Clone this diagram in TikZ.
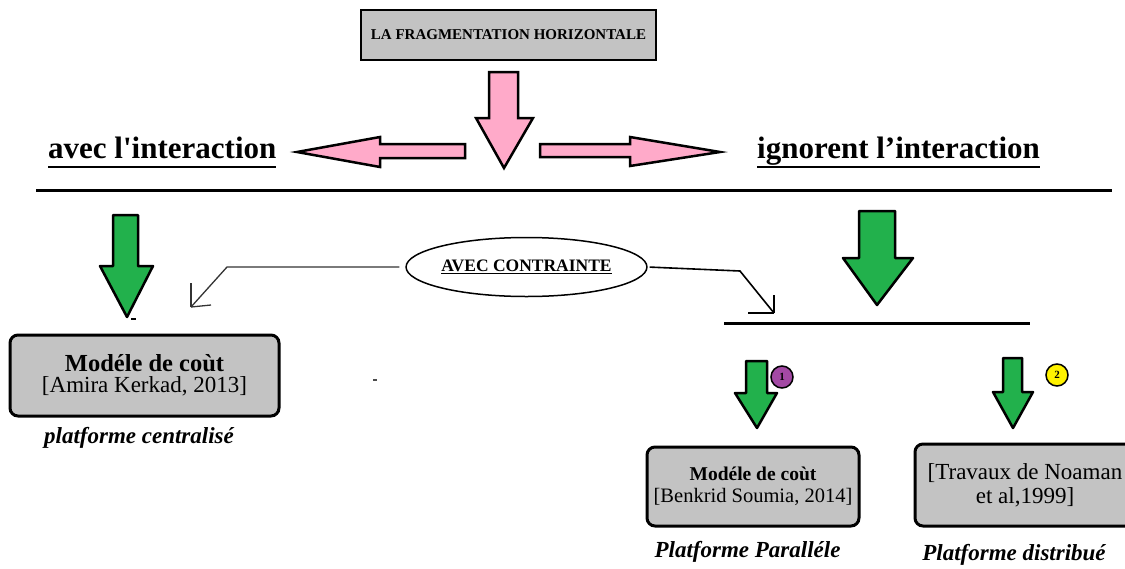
\documentclass[tikz,border=0pt]{standalone}
\usepackage{fontspec}
\newfontfamily\tnr{Liberation Serif}
\usetikzlibrary{shapes.geometric}
\definecolor{boxgray}{HTML}{C3C3C3}
\definecolor{pinkfill}{HTML}{FFAAC9}
\definecolor{greenfill}{HTML}{22B14C}
\definecolor{purplefill}{HTML}{A349A4}
\definecolor{yellowfill}{HTML}{FFF200}
% text with a rule under it: #1 drop below baseline, #2 rule thickness, #3 text
\newcommand\ulbox[3]{\setbox0\hbox{#3}\rlap{\rule[-#1]{\wd0}{#2}}\box0}
\newcommand\fs[1]{\fontsize{#1}{#1}\selectfont}
\begin{document}
\begin{tikzpicture}[x=1pt,y=-1pt,
  every node/.style={font=\tnr},
  titlebox/.style={draw, line width=2pt, fill=boxgray, minimum width=295pt,
    minimum height=50pt, inner sep=0pt, font=\tnr\bfseries\fs{15}},
  refbox/.style={draw, line width=3pt, fill=boxgray, rounded corners=8pt,
    inner sep=0pt, align=center},
  heading/.style={anchor=base west, inner sep=0pt, font=\tnr\bfseries\fs{31}},
  platform/.style={inner sep=0pt, font=\tnr\bfseries\itshape\fs{23}},
  blockpink/.style={draw, line width=2.5pt, fill=pinkfill, line join=miter},
  blockgreen/.style={draw, line width=2.5pt, fill=greenfill, line join=round},
  thinlink/.style={line width=1.3pt, draw=black!80},
  badge/.style={circle, draw, line width=1.5pt, minimum size=22pt, inner sep=0pt,
    font=\tnr\bfseries\fs{11}}]
\useasboundingbox (0,0) rectangle (1125,568);
\clip (0,0) rectangle (1125,568);

% title
\node[titlebox] (title) at (508.5,35) {LA FRAGMENTATION HORIZONTALE};

% pink block arrows
\draw[blockpink] (489,72) -- (518,72) -- (518,118) -- (533,118) -- (504,168)
  -- (476,118) -- (489,118) -- cycle;
\draw[blockpink] (465,144) -- (465,158) -- (380,158) -- (380,167) -- (297,152)
  -- (380,137) -- (380,144) -- cycle;
\draw[blockpink] (540,144) -- (540,157) -- (630,157) -- (630,166) -- (720,152)
  -- (630,137) -- (630,144) -- cycle;

% headings
\node[heading] (hleft) at (48,158) {\ulbox{10pt}{2.5pt}{avec l'interaction}};
\node[heading] (hright) at (757,158) {\ulbox{10pt}{2.5pt}{ignorent l’interaction}};

% separator lines
\coordinate (sepL) at (36,190);
\coordinate (sepR) at (1112,190);
\draw[line width=3pt] (sepL) -- (sepR);
\coordinate (subL) at (724,323);
\coordinate (subR) at (1030,323);
\draw[line width=3pt] (subL) -- (subR);

% green block arrows
\draw[blockgreen] (113,215) -- (138,215) -- (138,266) -- (153,266) -- (127,317)
  -- (100,266) -- (113,266) -- cycle;
\draw[blockgreen] (859,211) -- (895,211) -- (895,258) -- (913,258) -- (877,305)
  -- (843,258) -- (859,258) -- cycle;
\draw[blockgreen] (746,361) -- (767,361) -- (767,393) -- (777,393) -- (757,428)
  -- (735,393) -- (746,393) -- cycle;
\draw[blockgreen] (1003,358) -- (1022,358) -- (1022,392) -- (1033,392) -- (1013,428)
  -- (993,392) -- (1003,392) -- cycle;

% small marks
\fill (131,318) rectangle (136,320);
\fill[black!70] (373,379) rectangle (377,381);

% constraint ellipse and its links
\node[ellipse, draw, line width=1.5pt, minimum width=207pt, minimum height=59pt,
  inner sep=0pt, font=\tnr\bfseries\fs{17.5}] (ctr) at (526.5,267)
  {\ulbox{3pt}{1.5pt}{AVEC CONTRAINTE}};
\coordinate (lbend) at (227,267);
\coordinate (ltip) at (191,307);
\draw[thinlink, shorten <=6pt] (ctr.west) -- (lbend) -- (ltip);
\draw[thinlink] (ltip) -- ++(0,-24);
\draw[thinlink] (ltip) -- ++(20,-2);
\coordinate (rbend) at (740,271);
\coordinate (rtip) at (774,313);
\draw[line width=1.6pt, shorten <=2pt] (ctr.east) -- (rbend) -- (rtip);
\draw[line width=1.6pt] (rtip) -- ++(0,-18);
\draw[line width=1.6pt] (rtip) -- ++(-26,0);

% badges
\node[badge, fill=purplefill] (b1) at (782,377) {1};
\node[badge, fill=yellowfill] (b2) at (1057,375) {2};

% reference boxes
\node[refbox, minimum width=269pt, minimum height=81pt] (boxA) at (144.5,375.5)
  {{\bfseries\fs{24.5}Modéle de coùt}\\[4pt]{\fs{23}[Amira Kerkad, 2013]}};
\node[refbox, minimum width=212pt, minimum height=79pt] (boxB) at (753,486.5)
  {{\bfseries\fs{19.5}Modéle de coùt}\\[6pt]{\fs{20.5}[Benkrid Soumia, 2014]}};
\node[refbox, minimum width=220pt, minimum height=82pt] (boxC) at (1025,485)
  {{\fs{23}[Travaux de Noaman}\\[4pt]{\fs{23}et al,1999]}};

% platform captions
\node[platform, anchor=base] (pA) at (139,443) {platforme centralisé};
\node[platform, anchor=base] (pB) at (747.5,557) {Platforme Paralléle};
\node[platform, anchor=base] (pC) at (1014,560) {Platforme distribué};
\end{tikzpicture}
\end{document}
